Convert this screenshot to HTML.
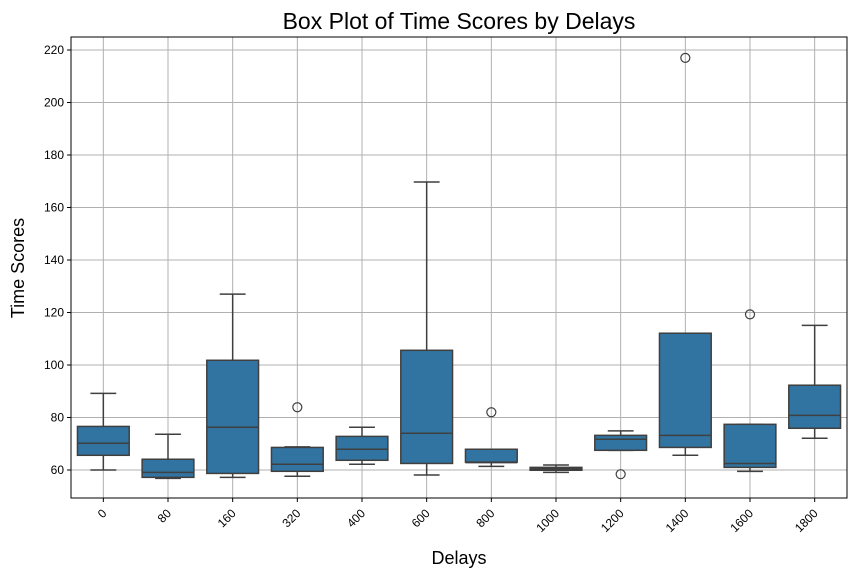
<!DOCTYPE html>
<html><head><meta charset="utf-8"><style>
body{margin:0;background:#fff;font-family:"Liberation Sans","DejaVu Sans",sans-serif}
</style></head><body>
<svg id="chart" width="855" height="578" xmlns="http://www.w3.org/2000/svg" font-family="Liberation Sans, DejaVu Sans, sans-serif">
<rect width="855" height="578" fill="#fff"/>
<g id="grid"></g><g id="boxes"></g><g id="axes"></g>
<text x="459" y="29" font-size="23" text-anchor="middle" fill="#000">Box Plot of Time Scores by Delays</text>
<text x="459" y="564" font-size="18" text-anchor="middle" fill="#000">Delays</text>
<text x="24" y="268" font-size="18" text-anchor="middle" fill="#000" transform="rotate(-90 24 268)">Time Scores</text>
</svg>
<script>
const categories=["0","80","160","320","400","600","800","1000","1200","1400","1600","1800"];
const whiskerLow=[60,56.8,57.2,57.6,62.2,58.1,61.4,59.1,67.5,65.6,59.5,72.1];
const q1=[65.6,57.2,58.7,59.5,63.7,62.5,63.0,59.9,67.5,68.6,61.0,75.9];
const medians=[70.2,59.1,76.3,62.2,67.9,74.0,62.8,60.5,71.7,73.2,62.5,80.8];
const q3=[76.6,64.1,101.8,68.6,72.8,105.6,67.9,61.0,73.2,112.1,77.4,92.3];
const whiskerHigh=[89.2,73.6,127,68.8,76.3,169.7,67.9,61.9,74.9,112.1,77.4,115.1];
const outliers=[[],[],[],[83.9],[],[],[82],[],[58.4],[217],[119.3],[]];
const yTicks=[60,80,100,120,140,160,180,200,220];
const L=71,R=847,T=37,B=498;
const X=i=>L+(i+0.5)*(R-L)/categories.length;
const Y=v=>470-(v-60)*2.625;
const NS="http://www.w3.org/2000/svg";
function mk(tag,attrs,parent){const e=document.createElementNS(NS,tag);for(const k in attrs)e.setAttribute(k,attrs[k]);parent.appendChild(e);return e;}
const grid=document.getElementById('grid'),boxes=document.getElementById('boxes'),axes=document.getElementById('axes');
yTicks.forEach(t=>{
  const g=mk('line',{x1:L,x2:R,y1:Y(t),y2:Y(t),stroke:'#b0b0b0','stroke-width':1},grid);
  
  
  mk('line',{x1:L-4,x2:L,y1:Y(t),y2:Y(t),stroke:'#000'},axes);
  const tx=mk('text',{x:L-7,y:Y(t)+4,'font-size':12,'text-anchor':'end'},axes);
  tx.textContent=t;
  
  
});
const bw=(R-L)/categories.length*0.8;
categories.forEach((c,i)=>{
  const x=X(i);
  const g=mk('line',{x1:x,x2:x,y1:T,y2:B,stroke:'#b0b0b0','stroke-width':1},grid);
  
  
  mk('line',{x1:x,x2:x,y1:B,y2:B+4,stroke:'#000'},axes);
  const tx=mk('text',{x:x+4,y:B+16,'font-size':12,'text-anchor':'end',transform:`rotate(-45 ${x+4} ${B+16})`},axes);
  tx.textContent=c;
  
  
  const grp=mk('g',{},boxes);
  
  
  const st={stroke:'#3f3f3f','stroke-width':1.5};
  mk('line',Object.assign({x1:x,x2:x,y1:Y(whiskerHigh[i]),y2:Y(q3[i])},st),grp);
  mk('line',Object.assign({x1:x,x2:x,y1:Y(q1[i]),y2:Y(whiskerLow[i])},st),grp);
  mk('line',Object.assign({x1:x-bw/4,x2:x+bw/4,y1:Y(whiskerHigh[i]),y2:Y(whiskerHigh[i])},st),grp);
  mk('line',Object.assign({x1:x-bw/4,x2:x+bw/4,y1:Y(whiskerLow[i]),y2:Y(whiskerLow[i])},st),grp);
  mk('rect',Object.assign({x:x-bw/2,y:Y(q3[i]),width:bw,height:Math.max(Y(q1[i])-Y(q3[i]),0.5),fill:'#3274a1'},st),grp);
  mk('line',Object.assign({x1:x-bw/2,x2:x+bw/2,y1:Y(medians[i]),y2:Y(medians[i])},st),grp);
  outliers[i].forEach(o=>{
    const ci=mk('circle',{cx:x,cy:Y(o),r:4.5,fill:'none',stroke:'#3f3f3f','stroke-width':1.2},grp);
    
    
  });
});
const fr=mk('rect',{x:L,y:T,width:R-L,height:B-T,fill:'none',stroke:'#000','stroke-width':1},axes);


</script>
</body></html>
